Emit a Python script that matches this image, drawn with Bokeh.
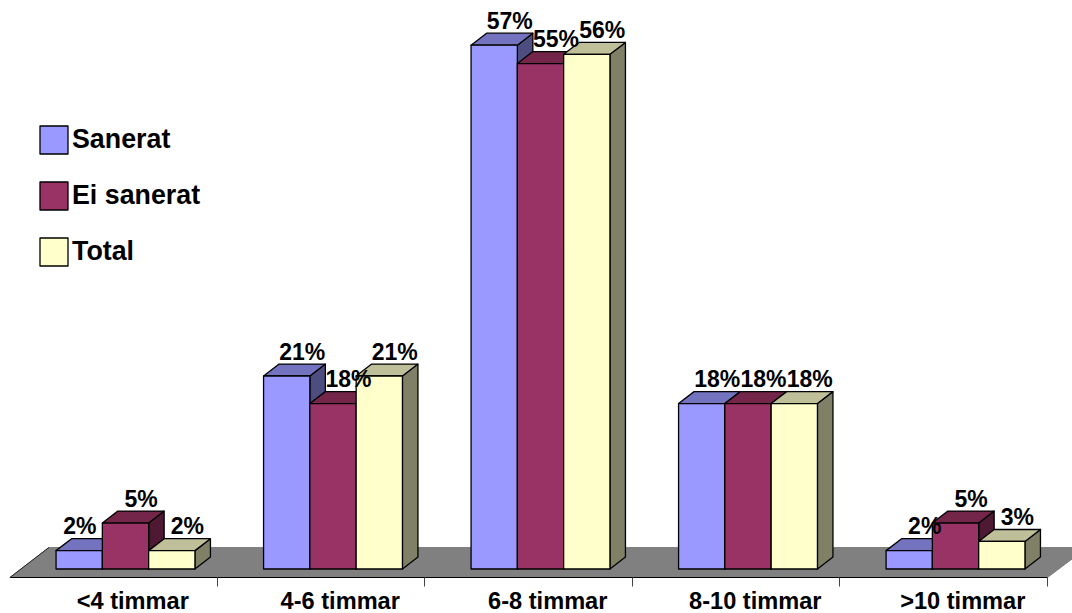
from bokeh.core.properties import value
from bokeh.embed import file_html
from bokeh.models import ColumnDataSource, FixedTicker, Legend, LegendItem
from bokeh.plotting import figure
from bokeh.resources import INLINE

categories = ["<4 timmar", "4-6 timmar", "6-8 timmar", "8-10 timmar", ">10 timmar"]
sanerat = [2, 21, 57, 18, 2]
ei_sanerat = [5, 18, 55, 18, 5]
total = [2, 21, 56, 18, 3]

series = [
    ("Sanerat", sanerat, "#9999FF", "#7373BF", "#4D4D80"),
    ("Ei sanerat", ei_sanerat, "#993366", "#732649", "#4D1933"),
    ("Total", total, "#FFFFCC", "#BFBF99", "#808066"),
]

WIDTH, HEIGHT = 1072, 613
X_START, X_END = -0.6024, 4.5638
Y_START, Y_END = -4.842, 61.86
FLOOR_FRONT, FLOOR_BACK = -0.925, 2.34
BAR = 0.2231            # bar width, in category units
DX, DY = 0.0747, 1.30   # depth of the pseudo-3D extrusion
FONT = "Liberation Sans"

p = figure(
    width=WIDTH, height=HEIGHT, output_backend="svg", toolbar_location=None,
    x_range=(X_START, X_END), y_range=(Y_START, Y_END),
    min_border_left=0, min_border_right=0, min_border_top=0,
    min_border_bottom=0, outline_line_color=None,
    background_fill_color="white", border_fill_color="white",
)
p.grid.visible = False
p.yaxis.visible = False

# Slanted grey floor under all the bars
floor_x = [-0.557, 4.443, 4.443 + 0.193, -0.557 + 0.188]
floor_y = [FLOOR_FRONT, FLOOR_FRONT, FLOOR_BACK, FLOOR_BACK]
p.patch(floor_x, floor_y, fill_color="#808080", line_color="#808080", line_width=1)
p.line(floor_x[:2], floor_y[:2], line_color="black", line_width=1.2)
p.line([floor_x[0], floor_x[3]], [FLOOR_FRONT, FLOOR_BACK], line_color="#222222", line_width=1)

legend_items = []
label_xs, label_ys, label_texts = [], [], []
for s, (name, vals, front, top_col, side_col) in enumerate(series):
    offset = (s - 1) * BAR
    xs = [i + offset for i in range(len(vals))]
    left = [x - BAR / 2 for x in xs]
    right = [x + BAR / 2 for x in xs]

    tops_x = [[l, r, r + DX, l + DX] for l, r in zip(left, right)]
    tops_y = [[v, v, v + DY, v + DY] for v in vals]
    sides_x = [[r, r + DX, r + DX, r] for r in right]
    sides_y = [[0, DY, v + DY, v] for v in vals]
    edge = dict(line_color="black", line_width=1.3, line_join="round")
    p.patches(sides_x, sides_y, fill_color=side_col, **edge)
    p.patches(tops_x, tops_y, fill_color=top_col, **edge)
    bars = p.vbar(x=xs, top=vals, bottom=0, width=BAR, fill_color=front, **edge)
    legend_items.append(LegendItem(label=name, renderers=[bars]))

    for i, (x, v) in enumerate(zip(xs, vals)):
        # the first 2% label is pushed left, clear of its taller neighbour
        nudge = -0.072 if (s, i) == (0, 0) else 0
        label_xs.append(x + DX + nudge)
        label_ys.append(v + DY + 1.35)
        label_texts.append(f"{v}%")

# Value labels sit above the back edge of each bar's top face
p.text(
    x="x", y="y", text="t",
    source=ColumnDataSource(dict(x=label_xs, y=label_ys, t=label_texts)),
    text_font=value(FONT), text_font_style="bold", text_font_size="23px",
    text_color="black", text_align="center", text_baseline="middle",
)

# Category labels at the group centres, tick marks at the group boundaries
centres = [i + 0.035 for i in range(len(categories))]
axis = p.xaxis[0]
axis.fixed_location = FLOOR_FRONT
axis.ticker = FixedTicker(ticks=centres, minor_ticks=[i + 0.441 for i in range(len(categories))])
axis.major_label_overrides = {c: t for c, t in zip(centres, categories)}
axis.axis_line_color = None
axis.major_tick_line_color = None
axis.major_tick_out = 0
axis.major_tick_in = 0
axis.minor_tick_out = 9
axis.minor_tick_in = 0
axis.minor_tick_line_color = "#444444"
axis.minor_tick_line_width = 1
axis.major_label_standoff = 1
axis.major_label_text_font = FONT
axis.major_label_text_font_style = "bold"
axis.major_label_text_font_size = "23.6px"
axis.major_label_text_color = "black"
axis.major_label_orientation = "horizontal"

legend = Legend(
    items=legend_items, location=(36, 344), orientation="vertical",
    background_fill_alpha=0, border_line_color=None,
    padding=0, margin=0, spacing=21, glyph_width=35, glyph_height=35,
    label_standoff=1, label_height=35,
    label_text_font=FONT, label_text_font_style="bold",
    label_text_font_size="26.8px", label_text_color="black",
    label_text_baseline="middle",
)
p.add_layout(legend, "center")

open("out.html", "w").write(file_html(p, INLINE))
